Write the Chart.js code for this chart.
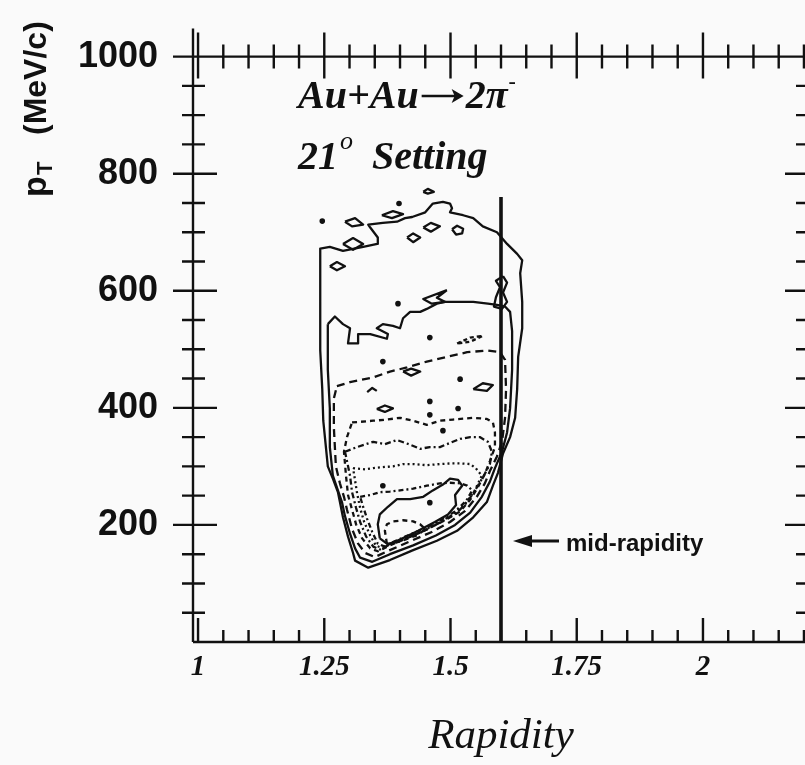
<!DOCTYPE html>
<html><head><meta charset="utf-8">
<script src="https://cdn.jsdelivr.net/npm/chart.js@4.4.1/dist/chart.umd.min.js"></script>
<style>
html,body{margin:0;padding:0;background:#fafafa;overflow:hidden}
#wrap{width:805px;height:765px;overflow:hidden;position:relative}
canvas{display:block}
</style>
</head><body>
<div id="wrap"><canvas id="c" width="830" height="765"></canvas></div>
<script>
// ---- axis ticks ----
const xTickValues = [1, 1.25, 1.5, 1.75, 2];
const xTickLabels = ['1', '1.25', '1.5', '1.75', '2'];
const xMinorTicks = [1.05,1.1,1.15,1.2,1.3,1.35,1.4,1.45,1.55,1.6,1.65,1.7,1.8,1.85,1.9,1.95,2.05,2.1,2.15,2.2];
const yTickValues = [200, 400, 600, 800, 1000];
const yTickLabels = ['200', '400', '600', '800', '1000'];
const yMinorTicks = [50,100,150,250,300,350,450,500,550,650,700,750,850,900,950];
const midRapidity = [[1.6, 0], [1.6, 760]];

// ---- contour levels [rapidity, pT] ----
const contour1 = [[1.242,663],[1.242,672],[1.261,675],[1.287,668],[1.327,675],[1.355,680],[1.356,691],[1.341,708],[1.337,713],[1.366,716],[1.394,718],[1.410,724],[1.424,726],[1.450,734],[1.459,743],[1.465,749],[1.485,752],[1.499,749],[1.503,741],[1.499,734],[1.525,729],[1.545,724],[1.564,710],[1.592,700],[1.612,680],[1.632,663],[1.642,652],[1.638,630],[1.642,581],[1.642,536],[1.634,487],[1.632,432],[1.628,383],[1.618,350],[1.604,322],[1.594,289],[1.584,267],[1.572,239],[1.545,213],[1.513,190],[1.473,173],[1.426,157],[1.380,140],[1.337,127],[1.311,139],[1.307,152],[1.297,180],[1.287,213],[1.281,239],[1.277,256],[1.267,279],[1.257,300],[1.248,378],[1.246,432],[1.242,498],[1.242,564],[1.242,630],[1.242,663]];
const contour2 = [[1.257,543],[1.271,556],[1.287,543],[1.301,536],[1.297,510],[1.317,510],[1.317,526],[1.341,526],[1.374,518],[1.376,526],[1.354,536],[1.366,543],[1.386,540],[1.400,536],[1.406,553],[1.420,564],[1.440,564],[1.453,569],[1.473,578],[1.489,581],[1.545,581],[1.574,578],[1.592,576],[1.608,573],[1.618,564],[1.622,531],[1.622,465],[1.618,399],[1.612,358],[1.602,325],[1.588,297],[1.578,274],[1.562,248],[1.539,221],[1.509,200],[1.471,182],[1.426,165],[1.380,150],[1.345,137],[1.321,144],[1.311,160],[1.301,185],[1.291,215],[1.285,239],[1.277,259],[1.267,284],[1.261,333],[1.261,399],[1.257,465],[1.257,515],[1.257,543]];
const contour3 = [[1.275,437],[1.301,444],[1.347,452],[1.380,462],[1.414,469],[1.453,479],[1.493,487],[1.533,495],[1.572,498],[1.598,495],[1.608,482],[1.610,432],[1.608,383],[1.602,342],[1.592,317],[1.578,292],[1.568,271],[1.552,248],[1.529,224],[1.499,205],[1.463,188],[1.420,172],[1.380,157],[1.350,145],[1.331,152],[1.317,168],[1.305,193],[1.295,226],[1.289,248],[1.281,271],[1.273,300],[1.269,366],[1.269,416],[1.275,437]];
const contour4 = [[1.305,375],[1.347,378],[1.374,380],[1.400,383],[1.426,378],[1.453,371],[1.479,378],[1.505,380],[1.545,383],[1.572,381],[1.584,375],[1.588,358],[1.588,333],[1.578,309],[1.568,287],[1.554,264],[1.539,243],[1.519,223],[1.489,208],[1.455,193],[1.416,178],[1.380,165],[1.356,155],[1.341,160],[1.325,177],[1.313,201],[1.305,226],[1.297,251],[1.293,284],[1.289,325],[1.295,350],[1.305,375]];
const contour5 = [[1.291,325],[1.315,333],[1.347,342],[1.370,338],[1.394,345],[1.420,337],[1.440,330],[1.459,333],[1.479,333],[1.499,340],[1.519,347],[1.539,350],[1.558,350],[1.574,342],[1.582,325],[1.578,304],[1.566,284],[1.550,261],[1.533,239],[1.513,221],[1.483,206],[1.450,191],[1.410,177],[1.380,167],[1.360,158],[1.347,163],[1.333,180],[1.321,205],[1.313,229],[1.305,256],[1.301,284],[1.295,309],[1.291,325]];
const contour6 = [[1.307,297],[1.331,295],[1.347,297],[1.370,299],[1.386,300],[1.406,304],[1.426,304],[1.453,302],[1.479,304],[1.499,305],[1.519,305],[1.539,304],[1.550,297],[1.562,284],[1.547,257],[1.529,236],[1.505,218],[1.475,203],[1.440,188],[1.406,175],[1.380,167],[1.366,160],[1.352,165],[1.341,182],[1.329,205],[1.321,229],[1.315,254],[1.311,276],[1.307,297]];
const contour7 = [[1.321,248],[1.341,251],[1.360,256],[1.380,257],[1.400,259],[1.426,262],[1.453,267],[1.479,271],[1.499,272],[1.519,271],[1.533,267],[1.543,259],[1.531,241],[1.509,223],[1.479,208],[1.446,193],[1.410,180],[1.384,170],[1.370,163],[1.356,168],[1.345,188],[1.335,210],[1.327,231],[1.321,248]];
const contour8 = [[1.360,177],[1.356,201],[1.360,218],[1.376,231],[1.394,244],[1.420,244],[1.446,248],[1.465,259],[1.485,269],[1.499,279],[1.515,277],[1.523,267],[1.509,251],[1.511,234],[1.495,218],[1.469,205],[1.436,190],[1.400,175],[1.376,167],[1.360,177]];
const contour9 = [[1.374,168],[1.370,190],[1.374,201],[1.386,206],[1.406,208],[1.426,206],[1.440,201],[1.450,193],[1.436,183],[1.410,175],[1.386,168],[1.374,168]];

// ---- small islands (closed) ----
const island1 = [[1.291,718],[1.311,724],[1.327,713],[1.305,710],[1.291,718]];
const island2 = [[1.287,680],[1.307,690],[1.327,680],[1.307,670],[1.287,680]];
const island3 = [[1.261,642],[1.275,649],[1.291,642],[1.275,635],[1.261,642]];
const island4 = [[1.414,691],[1.426,698],[1.440,691],[1.426,683],[1.414,691]];
const island5 = [[1.446,708],[1.461,716],[1.479,710],[1.461,701],[1.446,708]];
const island6 = [[1.503,705],[1.513,711],[1.525,706],[1.523,698],[1.511,696],[1.503,705]];
const island7 = [[1.446,769],[1.455,774],[1.467,769],[1.455,766],[1.446,769]];
const island8 = [[1.364,729],[1.386,736],[1.406,731],[1.384,724],[1.364,729]];
const island9 = [[1.493,601],[1.446,586],[1.463,578],[1.489,581],[1.473,588],[1.493,601]];
const island10 = [[1.604,625],[1.612,614],[1.604,597],[1.612,581],[1.602,569],[1.586,573],[1.590,589],[1.598,606],[1.590,617],[1.604,625]];
const island11 = [[1.406,462],[1.422,467],[1.440,462],[1.422,455],[1.406,462]];
const island12 = [[1.513,510],[1.539,520],[1.564,523],[1.539,513],[1.513,510]];
const island13 = [[1.545,432],[1.564,442],[1.584,439],[1.572,429],[1.545,432]];
const island14 = [[1.354,398],[1.370,404],[1.386,399],[1.370,393],[1.354,398]];
const island15 = [[1.335,427],[1.345,434],[1.354,429]];
const spots = [[1.246,719],[1.398,749],[1.396,578],[1.366,479],[1.459,520],[1.519,449],[1.515,399],[1.459,411],[1.485,361],[1.459,238],[1.366,267],[1.459,388]];

const INK = '#111';
const toXY = arr => arr.map(p => ({x: p[0], y: p[1]}));
function lineSet(arr, dash, width) {
  return {data: toXY(arr), showLine: true, fill: false, pointRadius: 0, borderColor: INK,
          borderWidth: width || 2.3, borderDash: dash || [], tension: 0, borderJoinStyle: 'round'};
}
const datasets = [
  lineSet(contour1), lineSet(contour2), lineSet(contour3, [8,5]), lineSet(contour4, [5,4]),
  lineSet(contour5, [6,3,2,3]), lineSet(contour6, [2,3]), lineSet(contour7, [5,3,2,3]),
  lineSet(contour8), lineSet(contour9, [5,4]),
  lineSet(island1), lineSet(island2), lineSet(island3), lineSet(island4), lineSet(island5),
  lineSet(island6), lineSet(island7), lineSet(island8), lineSet(island9), lineSet(island10),
  lineSet(island11), lineSet(island12, [4,3]), lineSet(island13), lineSet(island14), lineSet(island15),
  {data: toXY(spots), showLine: false, pointRadius: 2.8, pointBackgroundColor: INK, pointBorderWidth: 0},
  lineSet(midRapidity, [], 3.6)
];

const SERIF = '"Liberation Serif", "Times New Roman", serif';
const SANS = '"Liberation Sans", Arial, sans-serif';

const frame = {
  id: 'frame',
  afterDraw(chart) {
    const {ctx, chartArea: a, scales: {x, y}} = chart;
    ctx.save();
    ctx.strokeStyle = INK; ctx.lineWidth = 2.4; ctx.lineCap = 'butt';
    ctx.beginPath();
    ctx.moveTo(a.left, a.bottom); ctx.lineTo(a.left, a.top - 28);
    ctx.moveTo(a.left, a.top); ctx.lineTo(a.right, a.top);
    ctx.moveTo(a.left, a.bottom); ctx.lineTo(a.right, a.bottom);
    ctx.moveTo(a.right, a.top); ctx.lineTo(a.right, a.bottom);
    xTickValues.forEach(v => { const p = x.getPixelForValue(v);
      ctx.moveTo(p, a.bottom); ctx.lineTo(p, a.bottom - 24);
      ctx.moveTo(p, a.top - 24); ctx.lineTo(p, a.top + 22); });
    xMinorTicks.forEach(v => { const p = x.getPixelForValue(v);
      ctx.moveTo(p, a.bottom); ctx.lineTo(p, a.bottom - 12);
      ctx.moveTo(p, a.top - 12); ctx.lineTo(p, a.top + 12); });
    yTickValues.forEach(v => { const p = y.getPixelForValue(v);
      ctx.moveTo(a.left - 20, p); ctx.lineTo(a.left + 24, p);
      ctx.moveTo(a.right, p); ctx.lineTo(a.right - 24, p); });
    yMinorTicks.forEach(v => { const p = y.getPixelForValue(v);
      ctx.moveTo(a.left - 11, p); ctx.lineTo(a.left + 12, p);
      ctx.moveTo(a.right, p); ctx.lineTo(a.right - 13, p); });
    ctx.stroke();

    // y axis title  p_T (MeV/c)
    ctx.fillStyle = INK;
    ctx.save();
    ctx.translate(46, 197); ctx.rotate(-Math.PI / 2);
    ctx.textAlign = 'left'; ctx.textBaseline = 'alphabetic';
    ctx.font = 'bold 34px ' + SANS;
    ctx.fillText('p', 0, 0);
    ctx.font = 'bold 22px ' + SANS;
    ctx.fillText('T', 22, 6);
    ctx.font = 'bold 32px ' + SANS;
    ctx.fillText('(MeV/c)', 62, 0);
    ctx.restore();

    // annotation texts
    ctx.textAlign = 'left'; ctx.textBaseline = 'alphabetic';
    ctx.font = 'italic bold 40px ' + SERIF;
    ctx.fillText('Au+Au', 298, 108);
    let xx = 298 + ctx.measureText('Au+Au').width + 3;
    ctx.lineWidth = 2.6;
    ctx.beginPath(); ctx.moveTo(xx, 96); ctx.lineTo(xx + 38, 96); ctx.stroke();
    ctx.beginPath(); ctx.moveTo(xx + 42, 96); ctx.lineTo(xx + 30, 89); ctx.lineTo(xx + 33, 96); ctx.lineTo(xx + 30, 103); ctx.closePath(); ctx.fill();
    xx += 44;
    ctx.fillText('2\u03c0', xx, 108);
    xx += ctx.measureText('2\u03c0').width + 1;
    ctx.font = 'bold 22px ' + SERIF;
    ctx.fillText('-', xx, 88);
    ctx.font = 'italic bold 40px ' + SERIF;
    ctx.fillText('21', 298, 169);
    const w2 = ctx.measureText('21').width;
    ctx.font = 'italic 26px ' + SERIF;
    ctx.fillText('o', 298 + w2 + 2, 149);
    ctx.font = 'italic bold 40px ' + SERIF;
    ctx.fillText('Setting', 372, 169);

    // mid-rapidity label + arrow
    ctx.font = 'bold 24px ' + SANS;
    ctx.fillText('mid-rapidity', 566, 551);
    ctx.lineWidth = 3;
    ctx.beginPath(); ctx.moveTo(528, 541); ctx.lineTo(559, 541); ctx.stroke();
    ctx.beginPath(); ctx.moveTo(513, 541); ctx.lineTo(532, 535); ctx.lineTo(532, 547); ctx.closePath(); ctx.fill();
    ctx.restore();
  }
};

new Chart(document.getElementById('c'), {
  type: 'scatter',
  data: {datasets},
  options: {
    responsive: false, animation: false, events: [],
    layout: {padding: {left: 0, right: 21, top: 36, bottom: 0}},
    plugins: {legend: {display: false}, tooltip: {enabled: false}},
    scales: {
      x: {
        type: 'linear', min: 0.99, max: 2.21,
        grid: {display: false, drawTicks: false}, border: {display: false},
        afterBuildTicks: s => { s.ticks = xTickValues.map(v => ({value: v})); },
        afterFit: s => { s.height = 123; },
        ticks: {autoSkip: false, maxRotation: 0, padding: 8, color: INK,
          font: {family: SERIF, style: 'italic', weight: 'bold', size: 29},
          callback: (v, i) => xTickLabels[i]},
        title: {display: true, text: 'Rapidity', color: INK, padding: {top: 0, bottom: 2},
          font: {family: SERIF, style: 'italic', size: 43}}
      },
      y: {
        type: 'linear', min: 0, max: 1000,
        grid: {display: false, drawTicks: false}, border: {display: false},
        afterBuildTicks: s => { s.ticks = yTickValues.map(v => ({value: v})); },
        afterFit: s => { s.width = 193; },
        ticks: {autoSkip: false, padding: 35, color: INK,
          font: {family: SANS, weight: 'bold', size: 36},
          callback: (v, i) => yTickLabels[i]}
      }
    }
  },
  plugins: [frame]
});
</script>
</body></html>
